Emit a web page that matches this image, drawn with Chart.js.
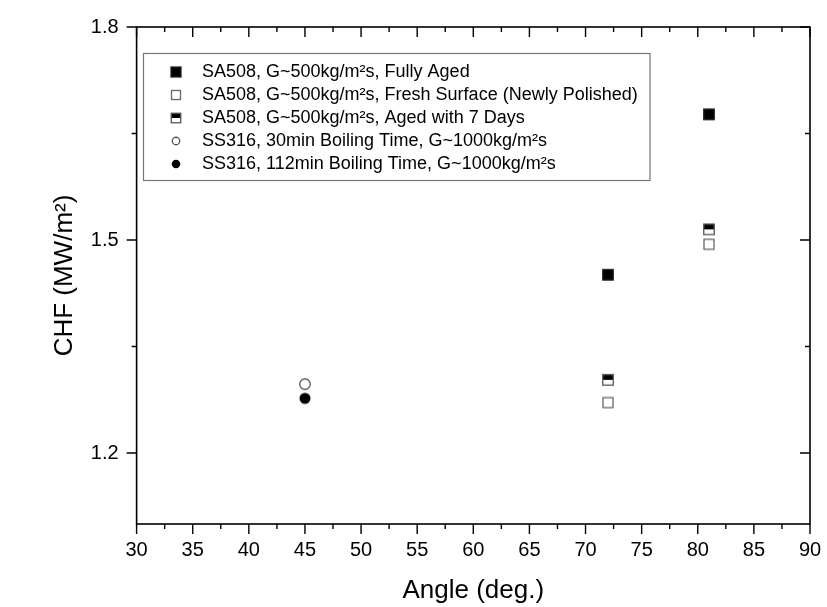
<!DOCTYPE html>
<html><head><meta charset="utf-8">
<script src="https://cdn.jsdelivr.net/npm/chart.js@4/dist/chart.umd.min.js"></script>
<style>html,body{margin:0;padding:0;background:#fff;}#wrap{width:827px;height:607px;}</style>
</head><body><div id="wrap"><canvas id="c" width="827" height="607"></canvas></div>
<script>
// ---- data ----
const seriesLabels = [
  'SA508, G~500kg/m²s, Fully Aged',
  'SA508, G~500kg/m²s, Fresh Surface (Newly Polished)',
  'SA508, G~500kg/m²s, Aged with 7 Days',
  'SS316, 30min Boiling Time, G~1000kg/m²s',
  'SS316, 112min Boiling Time, G~1000kg/m²s'
];
const angleSA508 = [72, 81];
const chfFullyAged = [1.451, 1.677];
const chfFresh = [1.271, 1.494];
const chfAged7 = [1.303, 1.515];
const angleSS316 = [45];
const chf30min = [1.297];
const chf112min = [1.277];
const xTickValues = [30, 35, 40, 45, 50, 55, 60, 65, 70, 75, 80, 85, 90];
const xMinorValues = [32.5, 37.5, 42.5, 47.5, 52.5, 57.5, 62.5, 67.5, 72.5, 77.5, 82.5, 87.5];
const yTickValues = [1.2, 1.5, 1.8];
const yMinorValues = [1.35, 1.65];
const xTitle = 'Angle (deg.)';
const yTitle = 'CHF (MW/m²)';

const FONT = '"Liberation Sans", Arial, sans-serif';
const markerKinds = ['sqFill', 'sqOpen', 'sqHalf', 'cirOpen', 'cirFill'];

function drawMarker(ctx, kind, cx, cy, s) {
  const h = s / 2;
  ctx.save();
  ctx.lineWidth = 1.3;
  if (kind === 'sqFill') {
    ctx.fillStyle = '#000'; ctx.fillRect(cx - h, cy - h, s, s);
    ctx.strokeStyle = '#222'; ctx.strokeRect(cx - h, cy - h, s, s);
  } else if (kind === 'sqOpen') {
    ctx.fillStyle = '#fff'; ctx.fillRect(cx - h, cy - h, s, s);
    ctx.strokeStyle = '#666'; ctx.strokeRect(cx - h, cy - h, s, s);
  } else if (kind === 'sqHalf') {
    ctx.fillStyle = '#fff'; ctx.fillRect(cx - h, cy - h, s, s);
    ctx.fillStyle = '#000'; ctx.fillRect(cx - h, cy - h, s, s / 2);
    ctx.strokeStyle = '#555'; ctx.strokeRect(cx - h, cy - h, s, s);
  } else if (kind === 'cirOpen') {
    ctx.beginPath(); ctx.arc(cx, cy, h, 0, Math.PI * 2);
    ctx.fillStyle = '#fff'; ctx.fill();
    ctx.strokeStyle = '#555'; ctx.stroke();
  } else {
    ctx.beginPath(); ctx.arc(cx, cy, h, 0, Math.PI * 2);
    ctx.fillStyle = '#000'; ctx.fill();
  }
  ctx.restore();
}
function markerImage(kind, s) {
  const c = document.createElement('canvas');
  c.width = 14; c.height = 14;
  drawMarker(c.getContext('2d'), kind, 7, 7, s);
  return c;
}
const markerSizes = [10.5, 10, 10.5, 10.5, 11];

function pts(xs, ys) { return xs.map((x, i) => ({ x: x, y: ys[i] })); }
const seriesData = [
  pts(angleSA508, chfFullyAged),
  pts(angleSA508, chfFresh),
  pts(angleSA508, chfAged7),
  pts(angleSS316, chf30min),
  pts(angleSS316, chf112min)
];

const datasets = seriesData.map((d, i) => ({
  label: seriesLabels[i],
  data: d,
  pointStyle: markerImage(markerKinds[i], markerSizes[i]),
  pointRadius: 6,
  pointHoverRadius: 6
}));

const framePlugin = {
  id: 'frame',
  afterDraw(chart) {
    const ctx = chart.ctx, a = chart.chartArea;
    const xs = chart.scales.x, ys = chart.scales.y;
    ctx.save();
    ctx.strokeStyle = '#000';
    ctx.lineWidth = 1.6;
    ctx.strokeRect(a.left, a.top, a.right - a.left, a.bottom - a.top);
    ctx.lineWidth = 1.4;
    ctx.beginPath();
    const xt = xTickValues.map(v => [v, 10]).concat(xMinorValues.map(v => [v, 5]));
    xt.forEach(([v, len]) => {
      const p = xs.getPixelForValue(v);
      ctx.moveTo(p, a.bottom); ctx.lineTo(p, a.bottom + len);
      ctx.moveTo(p, a.top); ctx.lineTo(p, a.top + len);
    });
    const yt = yTickValues.map(v => [v, 10]).concat(yMinorValues.map(v => [v, 5]));
    yt.forEach(([v, len]) => {
      const p = ys.getPixelForValue(v);
      ctx.moveTo(a.left - len, p); ctx.lineTo(a.left, p);
      ctx.moveTo(a.right - len, p); ctx.lineTo(a.right, p);
    });
    ctx.stroke();

    // legend box
    const bx = 143.5, by = 53.5, bw = 506.5, bh = 127;
    ctx.fillStyle = '#fff';
    ctx.fillRect(bx, by, bw, bh);
    ctx.strokeStyle = '#777';
    ctx.lineWidth = 1.2;
    ctx.strokeRect(bx, by, bw, bh);
    ctx.font = '18px ' + FONT;
    ctx.fillStyle = '#000';
    ctx.textBaseline = 'middle';
    ctx.textAlign = 'left';
    const legSizes = [10, 9, 9.5, 7.5, 8.5];
    chart.data.datasets.forEach((ds, i) => {
      const cy = 72 + i * 23;
      drawMarker(ctx, markerKinds[i], 176, cy, legSizes[i]);
      ctx.fillText(ds.label, 202, cy);
    });
    ctx.restore();
  }
};

new Chart(document.getElementById('c'), {
  type: 'scatter',
  data: { datasets: datasets },
  plugins: [framePlugin],
  options: {
    responsive: false,
    animation: false,
    layout: { padding: { top: 27, right: 17, left: 0, bottom: 0 } },
    plugins: { legend: { display: false }, tooltip: { enabled: false } },
    scales: {
      x: {
        type: 'linear', min: 30, max: 90,
        afterBuildTicks: s => { s.ticks = xTickValues.map(v => ({ value: v })); },
        afterFit: s => { s.height = 83; },
        grid: { display: true, drawOnChartArea: false, drawTicks: true, tickLength: 10, color: 'rgba(0,0,0,0)' },
        border: { display: false },
        ticks: { color: '#000', font: { family: FONT, size: 20 }, padding: 4, maxRotation: 0, autoSkip: false },
        title: { display: true, text: xTitle, color: '#000', font: { family: FONT, size: 26 }, padding: { top: 0, bottom: 1 } }
      },
      y: {
        type: 'linear', min: 1.1, max: 1.8,
        afterBuildTicks: s => { s.ticks = yTickValues.map(v => ({ value: v })); },
        afterFit: s => { s.width = 136.6; },
        grid: { display: true, drawOnChartArea: false, drawTicks: true, tickLength: 10, color: 'rgba(0,0,0,0)' },
        border: { display: false },
        ticks: { color: '#000', font: { family: FONT, size: 20 }, padding: 8, callback: v => Number(v).toFixed(1) },
        title: { display: true, text: yTitle, color: '#000', font: { family: FONT, size: 26 }, padding: { top: 49, bottom: 0 } }
      }
    }
  }
});
</script>
</body></html>
